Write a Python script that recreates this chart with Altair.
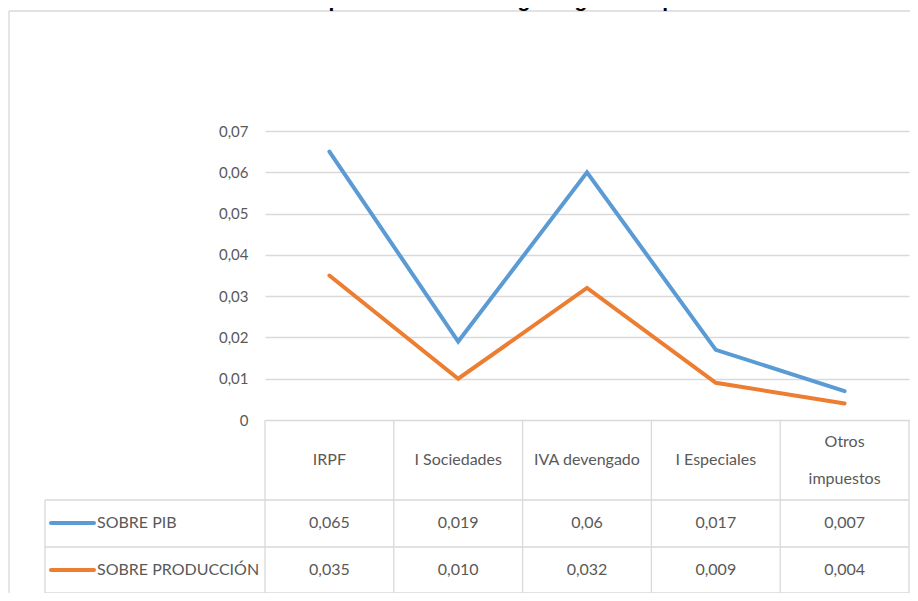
import altair as alt
import pandas as pd

title_text = "Gráfico 2. Repercusión fiscal según figuras impositivas"
categories = ["IRPF", "I Sociedades", "IVA devengado", "I Especiales", "Otros impuestos"]
header_lines = [["IRPF"], ["I Sociedades"], ["IVA devengado"], ["I Especiales"], ["Otros", "impuestos"]]
series_names = ["SOBRE PIB", "SOBRE PRODUCCIÓN"]
pib_values = [0.065, 0.019, 0.06, 0.017, 0.007]
prod_values = [0.035, 0.010, 0.032, 0.009, 0.004]
pib_labels = ["0,065", "0,019", "0,06", "0,017", "0,007"]
prod_labels = ["0,035", "0,010", "0,032", "0,009", "0,004"]
y_ticks = [0, 0.01, 0.02, 0.03, 0.04, 0.05, 0.06, 0.07]
colors = ["#5b9bd5", "#ed7d31"]

W, H = 644, 289
FONT = "Lato"
TXT = "#595959"
GRID = "#d9d9d9"
LH = 37

n = len(categories)
idx = list(range(n))

lines_df = pd.DataFrame({
    "cat": categories * 2,
    "idx": idx * 2,
    "series": [series_names[0]] * n + [series_names[1]] * n,
    "value": pib_values + prod_values,
})

xscale = alt.Scale(domain=[-0.5, n - 0.5], nice=False, zero=False)
yscale = alt.Scale(domain=[0, 0.07], nice=False)

lines = alt.Chart(lines_df).mark_line(strokeWidth=4, strokeCap="round").encode(
    x=alt.X("idx:Q", scale=xscale, axis=None),
    y=alt.Y("value:Q", scale=yscale, axis=alt.Axis(
        values=y_ticks, grid=True, gridColor=GRID, gridWidth=1.3, domain=False, ticks=False,
        labelPadding=17, labelFont=FONT, labelFontSize=15, labelColor=TXT, title=None,
        labelExpr="datum.value == 0 ? '0' : replace(format(datum.value, '.2f'), '.', ',')")),
    color=alt.Color("series:N", scale=alt.Scale(domain=series_names, range=colors), legend=None),
    detail="series:N",
)

# table header (centred in header row; multi-line headers centred as a block)
headers = []
for i, hl in enumerate(header_lines):
    hdf = pd.DataFrame({"idx": [i], "h": ["\n".join(hl)]})
    headers.append(alt.Chart(hdf).mark_text(
        font=FONT, fontSize=16, color=TXT, align="center", baseline="middle",
        lineBreak="\n", lineHeight=LH,
    ).encode(x=alt.X("idx:Q", scale=xscale, axis=None),
             y=alt.value(329 - (len(hl) - 1) * LH / 2), text="h:N"))

# vertical cell borders
bounds_df = pd.DataFrame({"b": [i - 0.5 for i in range(n + 1)]})
vlines = alt.Chart(bounds_df).mark_rule(color=GRID, strokeWidth=1.3).encode(
    x=alt.X("b:Q", scale=xscale, axis=None), y=alt.value(H), y2=alt.value(462))

# horizontal row borders & label column border
hrow_df = pd.DataFrame({"r": [0]})
row_y = [369, 416, 462]
hlines = [
    alt.Chart(hrow_df).mark_rule(color=GRID, strokeWidth=1.3).encode(
        x=alt.value(-220), x2=alt.value(W), y=alt.value(yy))
    for yy in row_y
]
leftcol = alt.Chart(hrow_df).mark_rule(color=GRID, strokeWidth=1.3).encode(
    x=alt.value(-220), y=alt.value(369), y2=alt.value(462))

# rows: legend sample, name, values
rows = []
row_centers = [392, 439]
for s_name, s_labels, col, yy in zip(series_names, [pib_labels, prod_labels], colors, row_centers):
    vdf = pd.DataFrame({"idx": idx, "lab": s_labels})
    rows.append(alt.Chart(vdf).mark_text(
        font=FONT, fontSize=16, color=TXT, align="center", baseline="middle"
    ).encode(x=alt.X("idx:Q", scale=xscale, axis=None), y=alt.value(yy), text="lab:N"))
    ndf = pd.DataFrame({"name": [s_name]})
    rows.append(alt.Chart(ndf).mark_rule(color=col, strokeWidth=4, strokeCap="round").encode(
        x=alt.value(-214), x2=alt.value(-171), y=alt.value(yy)))
    rows.append(alt.Chart(ndf).mark_text(
        font=FONT, fontSize=16, color=TXT, align="left", baseline="middle"
    ).encode(x=alt.value(-168), y=alt.value(yy), text="name:N"))

# outer frame
fdf = pd.DataFrame({"f": [0]})
frame_l = alt.Chart(fdf).mark_rule(color=GRID, strokeWidth=1.3).encode(
    x=alt.value(-256), y=alt.value(-120), y2=alt.value(470))
frame_t = alt.Chart(fdf).mark_rule(color=GRID, strokeWidth=1.3).encode(
    x=alt.value(-256), x2=alt.value(660), y=alt.value(-120))

tdf = pd.DataFrame({"t": [title_text]})
title = alt.Chart(tdf).mark_text(
    font="Liberation Sans", fontWeight="bold", fontSize=21, color="#000000",
    align="center", baseline="alphabetic"
).encode(x=alt.value(211), y=alt.value(-124), text="t:N")

chart = alt.layer(
    frame_l, frame_t, vlines, *hlines, leftcol, *headers, *rows, lines, title
).properties(
    width=W, height=H,
    padding={"left": 257, "top": 123, "right": 1, "bottom": 173},
    autosize=alt.AutoSizeParams(type="none"),
    background="white",
).configure_view(stroke=None)

chart.save("out.html", embed_options={"renderer": "svg", "actions": False})
